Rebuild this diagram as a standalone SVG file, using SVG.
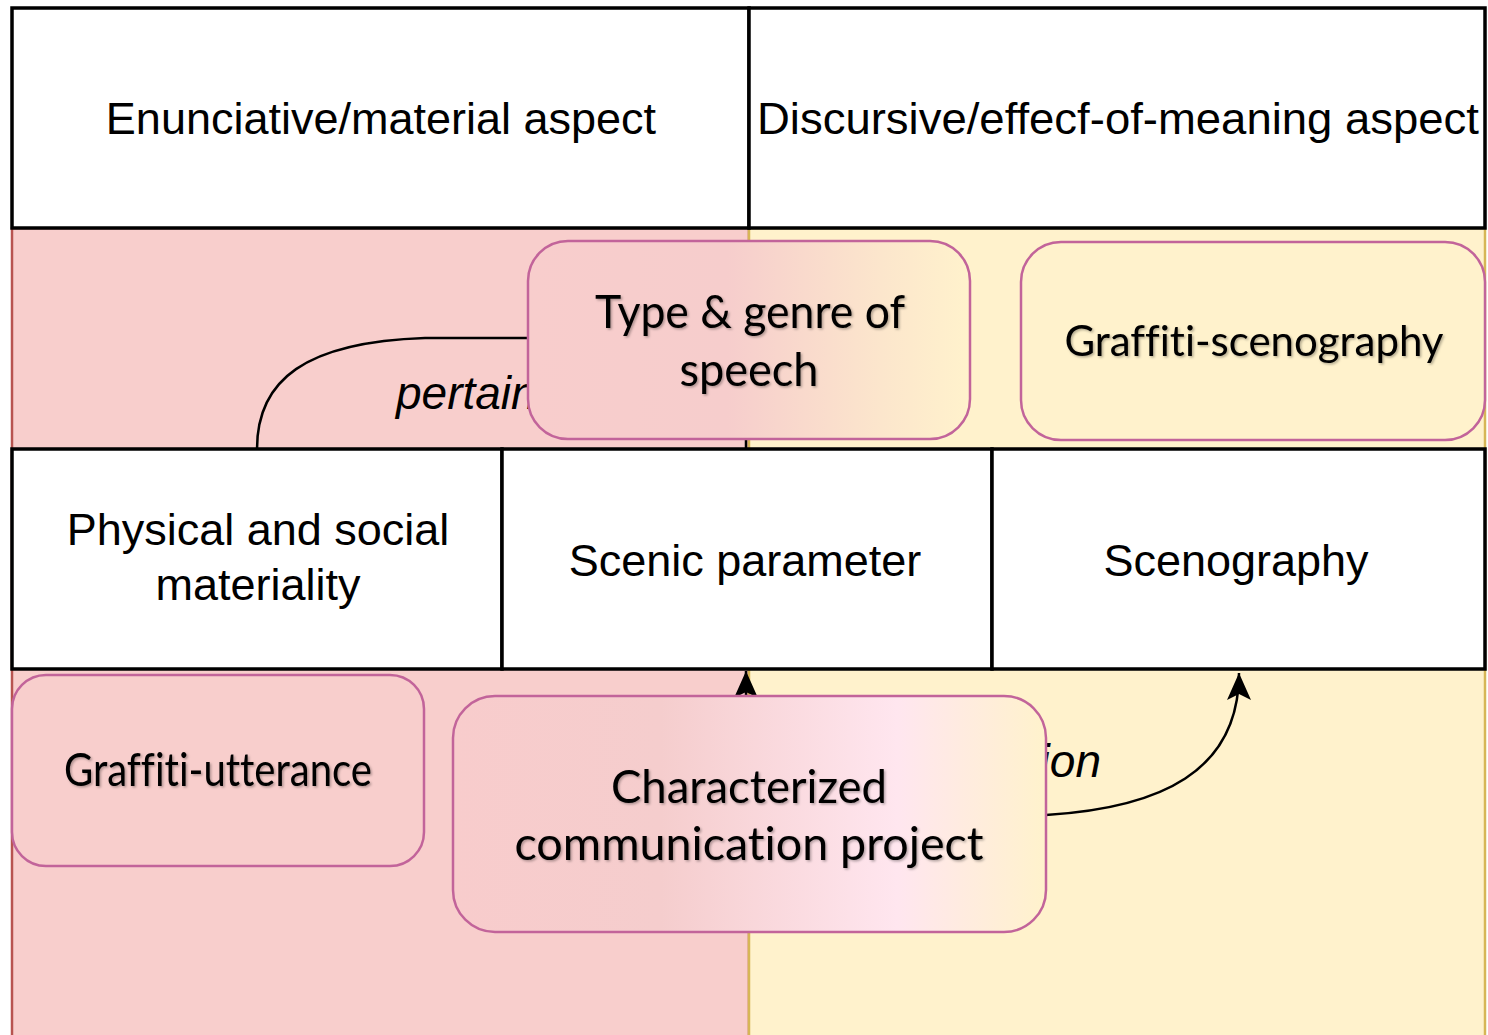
<svg xmlns="http://www.w3.org/2000/svg" width="1488" height="1035" viewBox="0 0 1488 1035">
<style>
.box{fill:#ffffff;stroke:#000000;stroke-width:3.5}
.lbl{font-family:"Liberation Sans",Arial,sans-serif;font-size:45px;fill:#000000;text-anchor:middle}
.node{stroke:#c2649a;stroke-width:2.5}
.ntx{font-family:Lato,"Open Sans",sans-serif;font-size:47px;fill:#000000;text-anchor:middle;font-variant-ligatures:none;font-feature-settings:"liga" 0,"clig" 0,"dlig" 0;filter:url(#tsh)}
.edge{fill:none;stroke:#000000;stroke-width:2.5}
.elbl{font-family:"Liberation Sans",Arial,sans-serif;font-size:46px;font-style:italic;fill:#000000}
</style>
<defs>
<filter id="tsh" x="-3%" y="-20%" width="106%" height="140%">
<feDropShadow dx="1.5" dy="1.5" stdDeviation="1" flood-color="#000000" flood-opacity="0.3"/>
</filter>
<linearGradient id="g1" x1="0" y1="0" x2="1" y2="0">
<stop offset="0" stop-color="#f8cdcc"/>
<stop offset="0.45" stop-color="#f6cdcc"/>
<stop offset="0.8" stop-color="#fce6cc"/>
<stop offset="1" stop-color="#fff2cc"/>
</linearGradient>
<linearGradient id="g2" x1="0" y1="0" x2="1" y2="0">
<stop offset="0" stop-color="#f8cccc"/>
<stop offset="0.35" stop-color="#f5cdcd"/>
<stop offset="0.75" stop-color="#ffe6ef"/>
<stop offset="1" stop-color="#fff2cc"/>
</linearGradient>
<marker id="arr" markerUnits="userSpaceOnUse" viewBox="-30 -14 32 28" markerWidth="32" markerHeight="28" refX="0" refY="0" orient="auto">
<path d="M0,0 L-27,-12 L-21,0 L-27,12 Z" fill="#000000"/>
</marker>
</defs>

<g id="background">
<rect x="12" y="228" width="737" height="830" fill="#f8cecc" stroke="#b85450" stroke-width="2.5"/>
<rect x="749" y="228" width="736" height="830" fill="#fff2cc" stroke="#d6b656" stroke-width="2.5"/>
</g>

<g id="header-enunciative">
<rect class="box" x="12" y="8" width="737" height="220"/>
<text class="lbl" x="381" y="134">Enunciative/material aspect</text>
</g>
<g id="header-discursive">
<rect class="box" x="749" y="8" width="736" height="220"/>
<text class="lbl" x="1118" y="134" textLength="722" lengthAdjust="spacingAndGlyphs">Discursive/effecf-of-meaning aspect</text>
</g>

<g id="physical-materiality">
<rect class="box" x="12" y="449" width="490" height="220"/>
<text class="lbl" x="258" y="545">Physical and social</text>
<text class="lbl" x="258" y="600">materiality</text>
</g>
<g id="scenic-parameter">
<rect class="box" x="502" y="449" width="490" height="220"/>
<text class="lbl" x="745" y="576">Scenic parameter</text>
</g>
<g id="scenography">
<rect class="box" x="992" y="449" width="493" height="220"/>
<text class="lbl" x="1236" y="576">Scenography</text>
</g>

<g id="connectors">
<path class="edge" d="M528,338 L425,338 C305,342 257,380 257,449"/>
<text class="elbl" x="396" y="409">pertain</text>
<path class="edge" d="M746,439 L746,449"/>
<path class="edge" d="M746,696 L746,671" marker-end="url(#arr)"/>
<path class="edge" d="M1046,815 C1160,808 1239,772 1239,673" marker-end="url(#arr)"/>
<text class="elbl" x="1101" y="777" text-anchor="end">ion</text>
</g>

<g id="type-genre">
<rect class="node" x="528" y="241" width="442" height="198" rx="40" fill="url(#g1)"/>
<text class="ntx" x="750" y="328" textLength="310" lengthAdjust="spacingAndGlyphs">Type &amp; genre of</text>
<text class="ntx" x="749" y="386" textLength="139" lengthAdjust="spacingAndGlyphs">speech</text>
</g>
<g id="graffiti-scenography">
<rect class="node" x="1021" y="242" width="464" height="198" rx="40" fill="#fff2cc"/>
<text class="ntx" x="1254" y="356" style="font-size:42px">Graffiti-scenography</text>
</g>
<g id="graffiti-utterance">
<rect class="node" x="12" y="675" width="412" height="191" rx="34" fill="#f8cecc"/>
<text class="ntx" x="218" y="786" textLength="308" lengthAdjust="spacingAndGlyphs">Graffiti-utterance</text>
</g>
<g id="communication-project">
<rect class="node" x="453" y="696" width="593" height="236" rx="42" fill="url(#g2)"/>
<text class="ntx" x="749" y="803" textLength="276" lengthAdjust="spacingAndGlyphs">Characterized</text>
<text class="ntx" x="749" y="860" textLength="469" lengthAdjust="spacingAndGlyphs">communication project</text>
</g>
</svg>
